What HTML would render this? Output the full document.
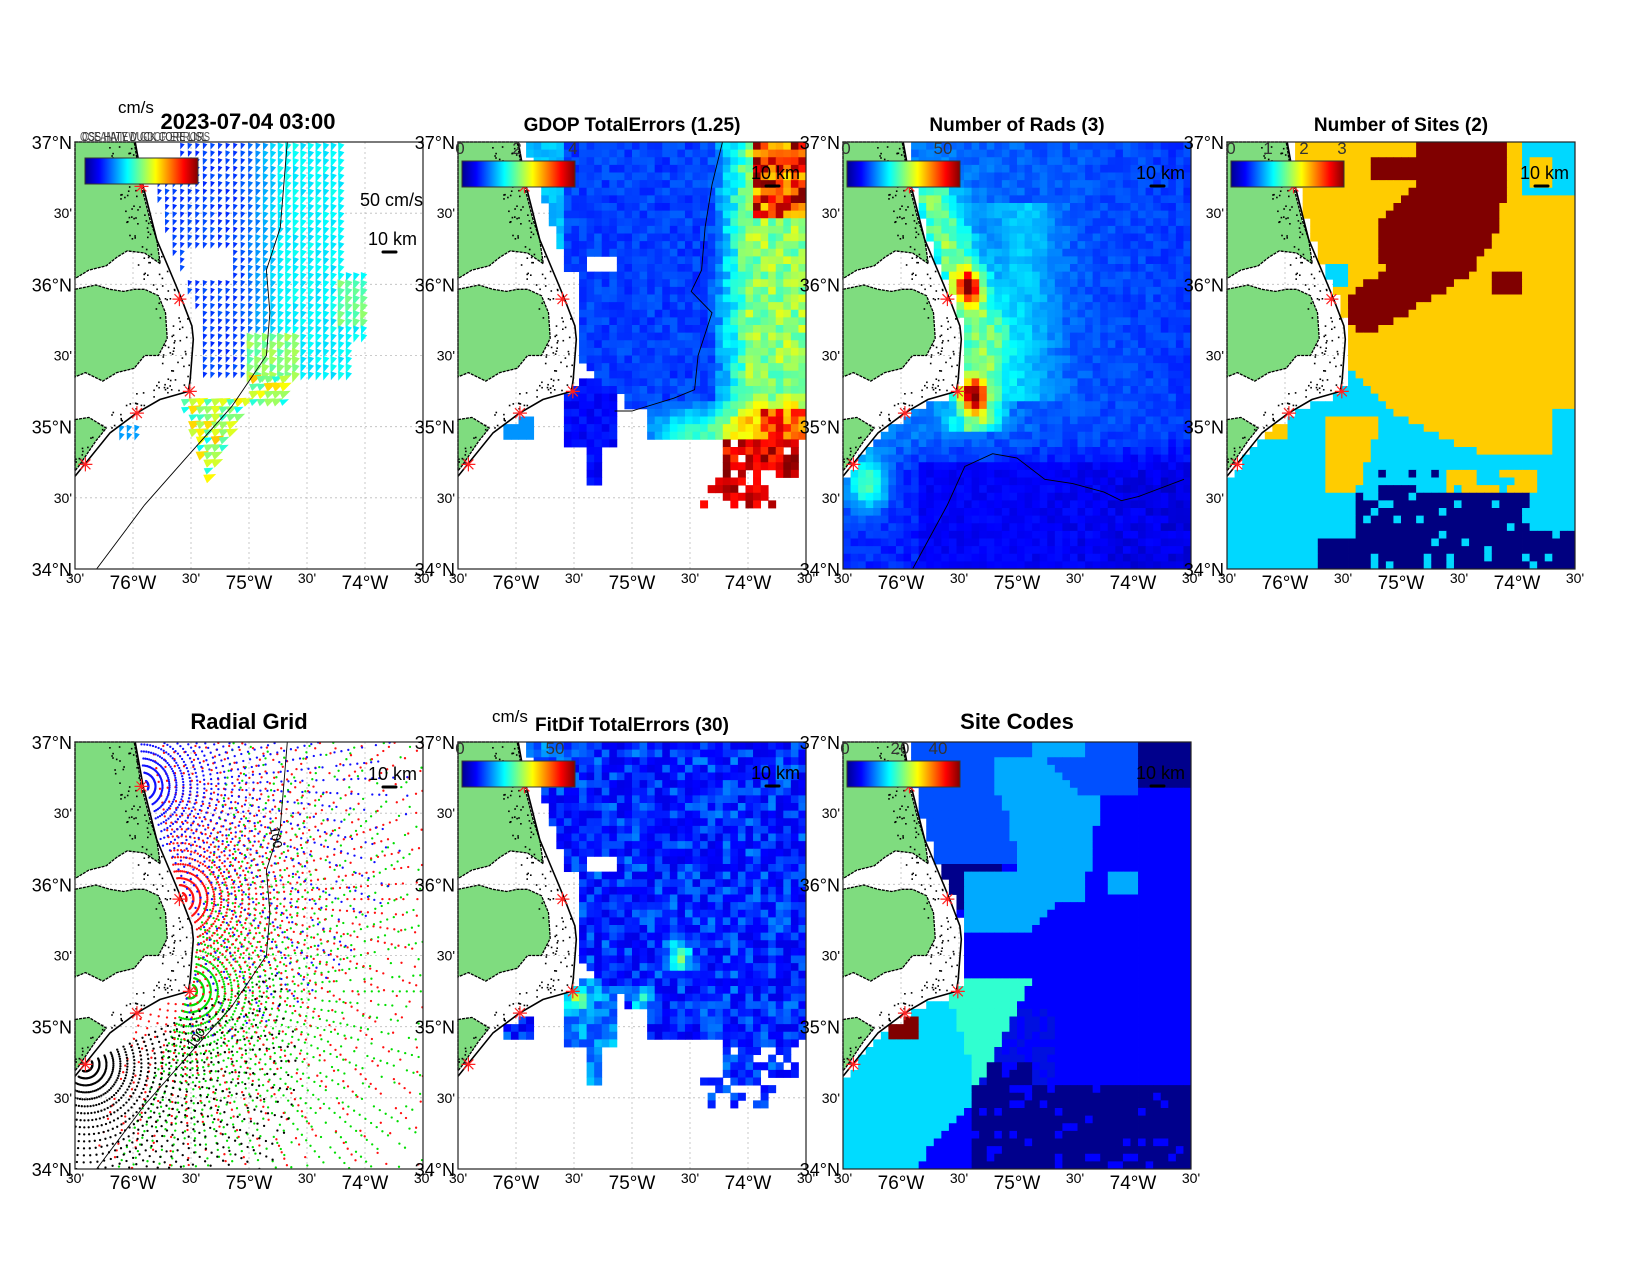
<!DOCTYPE html>
<html><head><meta charset="utf-8"><style>
html,body{margin:0;padding:0;background:#fff}
svg text{font-family:"Liberation Sans",Arial,sans-serif}
</style></head><body>
<svg id="s" xmlns="http://www.w3.org/2000/svg" width="1650" height="1275" viewBox="0 0 1650 1275">
<defs>
<linearGradient id="jet" x1="0" x2="1" y1="0" y2="0">
<stop offset="0" stop-color="#00008f"/><stop offset="0.125" stop-color="#0000ff"/><stop offset="0.375" stop-color="#00ffff"/><stop offset="0.625" stop-color="#ffff00"/><stop offset="0.875" stop-color="#ff0000"/><stop offset="1" stop-color="#800000"/>
</linearGradient>
</defs>
</svg>
<script>
(function(){
var W=348,H=427,NC=46,NR=56,cw=W/NC,ch=H/NR;
var PX=[75,458,843,1227],PY=[142,742];
function cl(x){return x<0?0:(x>1?1:x);}
function hash(i,j,s){var x=Math.sin(i*127.1+j*311.7+s*74.7)*43758.5453;return x-Math.floor(x);}
function jet(t){t=cl(t);var r=cl(1.5-Math.abs(4*t-3)),g=cl(1.5-Math.abs(4*t-2)),b=cl(1.5-Math.abs(4*t-1));
return 'rgb('+Math.round(r*255)+','+Math.round(g*255)+','+Math.round(b*255)+')';}
var OC=[[0.173,0],[0.196,0.104],[0.235,0.229],[0.283,0.322],[0.307,0.369],[0.336,0.431],[0.340,0.462],[0.331,0.556],[0.326,0.584],[0.244,0.603],[0.177,0.635],[0.101,0.681],[0,0.783]];
function interp(pts,x,ix,iy){for(var k=0;k<pts.length-1;k++){var a=pts[k],b=pts[k+1];var lo=Math.min(a[ix],b[ix]),hi=Math.max(a[ix],b[ix]);if(x>=lo&&x<=hi){var f=(b[ix]-a[ix])==0?0:(x-a[ix])/(b[ix]-a[ix]);return a[iy]+f*(b[iy]-a[iy]);}}return null;}
var up=OC.slice(0,9),low=OC.slice(8);
function coastU(v){if(v<=0.584)return interp(up,v,1,0);return 0;}
function ocean(u,v){if(v<=0.584){return u>coastU(v)+0.01;}
 if(u>0.326)return true;var lv=interp(low,u,0,1);return v>lv+0.01;}
var out=[];
function P(s){out.push(s);}
function pg(pts,ox,oy){return pts.map(function(p){return (ox+p[0]*W).toFixed(1)+','+(oy+p[1]*H).toFixed(1);}).join(' ');}
var LA=[[0,0],[0.17,0],[0.19,0.1],[0.215,0.18],[0.235,0.23],[0.245,0.285],[0.2,0.26],[0.15,0.255],[0.12,0.27],[0.09,0.29],[0.04,0.3],[0,0.32]];
var LB=[[0,0.345],[0.06,0.335],[0.1,0.345],[0.14,0.35],[0.17,0.345],[0.2,0.345],[0.24,0.36],[0.26,0.4],[0.265,0.46],[0.24,0.5],[0.2,0.5],[0.17,0.53],[0.12,0.54],[0.08,0.56],[0.03,0.54],[0,0.55]];
var LC=[[0,0.65],[0.04,0.645],[0.09,0.67],[0.06,0.7],[0.01,0.76],[0,0.77]];
var STARS=[[0.191,0.104],[0.30,0.368],[0.33,0.584],[0.178,0.635],[0.03,0.755]];
function grid(ox,oy){for(var k=1;k<6;k++){P('<line x1="'+(ox+k*W/6)+'" y1="'+oy+'" x2="'+(ox+k*W/6)+'" y2="'+(oy+H)+'" stroke="#bbb" stroke-width="0.8" stroke-dasharray="2,3"/>');
P('<line x1="'+ox+'" y1="'+(oy+k*H/6)+'" x2="'+(ox+W)+'" y2="'+(oy+k*H/6)+'" stroke="#bbb" stroke-width="0.8" stroke-dasharray="2,3"/>');}}
function cells(ox,oy,fn,seed){for(var j=0;j<NR;j++)for(var i=0;i<NC;i++){var u=(i+0.5)/NC,v=(j+0.5)/NR;var c=fn(u,v,hash(i,j,seed),i,j);if(c)P('<rect x="'+(ox+i*cw).toFixed(2)+'" y="'+(oy+j*ch).toFixed(2)+'" width="'+(cw+0.4).toFixed(2)+'" height="'+(ch+0.4).toFixed(2)+'" fill="'+c+'"/>');}}
function land(ox,oy){
 [LA,LB,LC].forEach(function(L){P('<polygon points="'+pg(L,ox,oy)+'" fill="#7fdc7f" stroke="#000" stroke-width="1.3" stroke-dasharray="3,1"/>');});
 P('<polyline points="'+pg(OC,ox,oy)+'" fill="none" stroke="#000" stroke-width="1.6"/>');
 for(var k=0;k<160;k++){var v=hash(k,1,9)*0.8,u=coastU(Math.min(v,0.584));if(v>0.584){var uu=hash(k,2,9)*0.3;var lv=interp(low,uu,0,1);if(lv===null)continue;u=uu;v=lv-0.01-hash(k,3,9)*0.04;}else{u=u-0.005-hash(k,3,9)*0.08;}
 P('<rect x="'+(ox+u*W).toFixed(1)+'" y="'+(oy+v*H).toFixed(1)+'" width="1.6" height="1.6" fill="#000"/>');}
 STARS.forEach(function(s){var x=ox+s[0]*W,y=oy+s[1]*H;var d='';for(var a=0;a<4;a++){var an=a*Math.PI/4;d+='M'+(x-7*Math.cos(an)).toFixed(1)+' '+(y-7*Math.sin(an)).toFixed(1)+'L'+(x+7*Math.cos(an)).toFixed(1)+' '+(y+7*Math.sin(an)).toFixed(1);}P('<path d="'+d+'" stroke="#ff2020" stroke-width="1.2"/>');});
}
function axes(ox,oy,title,tsize,cbar,ticks,km){
 P('<rect x="'+ox+'" y="'+oy+'" width="'+W+'" height="'+H+'" fill="none" stroke="#222" stroke-width="1.2"/>');
 var lab=['37°N',"30'",'36°N',"30'",'35°N',"30'",'34°N'];
 for(var k=0;k<7;k++){var big=k%2==0;P('<text x="'+(ox-3)+'" y="'+(oy+k*H/6+(big?7:5))+'" text-anchor="end" font-size="'+(big?18:14)+'">'+lab[k]+'</text>');}
 var bl=["30'",'76°W',"30'",'75°W',"30'",'74°W',"30'"];
 for(var k=0;k<7;k++){var big=k%2==1;P('<text x="'+(ox+k*W/6)+'" y="'+(oy+H+(big?20:14))+'" text-anchor="middle" font-size="'+(big?19:14)+'">'+bl[k]+'</text>');}
 if(title)P('<text x="'+(ox+W/2)+'" y="'+(oy-(tsize>20?13:11))+'" text-anchor="middle" font-size="'+tsize+'" font-weight="bold">'+title+'</text>');
 if(cbar){P('<rect x="'+(ox+cbar[0])+'" y="'+(oy+cbar[1])+'" width="113" height="26" fill="url(#jet)" stroke="#333" stroke-width="1"/>');
  ticks.forEach(function(t){P('<text x="'+(ox+t[0])+'" y="'+(oy+12)+'" text-anchor="middle" font-size="17" fill="#333">'+t[1]+'</text>');});}
 if(km){P('<text x="'+(ox+W-6)+'" y="'+(oy+km)+'" text-anchor="end" font-size="18">10 km</text>');
  P('<line x1="'+(ox+W-40)+'" y1="'+(oy+km+7)+'" x2="'+(ox+W-27)+'" y2="'+(oy+km+7)+'" stroke="#000" stroke-width="3" stroke-linecap="round"/>');}
}
function gdopMask(u,v,h){if(!ocean(u,v))return 0;
 var m=false;
 if(v<0.27)m=u>0.19+0.41*v;
 else if(v<0.31)m=u>0.30&&!(u>0.37&&u<0.455);
 else if(v<0.52)m=u>0.35;
 else if(v<0.6)m=u>0.35+(v-0.52)*1.6;
 else if(v<0.63)m=u>0.47;
 else if(v<0.70)m=u>0.545;
 else if(v<0.78)m=u>0.76&&u<0.98&&h>0.15;
 else if(v<0.86)m=u>0.69&&u<0.91&&h>0.35;
 if(m)return 1;
 if(u>0.30&&u<0.455&&v>0.56&&v<0.72)return 2;
 if(u>0.37&&u<0.415&&v>=0.72&&v<0.81)return 2;
 if(u>0.13&&u<0.215&&v>0.65&&v<0.70)return 3;
 return 0;}
function g(u,v,x0,y0,s){return Math.exp(-((u-x0)*(u-x0)+(v-y0)*(v-y0))/s);}

// Panel 1: vectors
(function(){var ox=PX[0],oy=PY[0];grid(ox,oy);
 for(var j=0;j<NR;j++)for(var i=0;i<NC;i++){var u=(i+0.5)/NC,v=(j+0.5)/NR,h=hash(i,j,1);if(!ocean(u,v))continue;
  var main=v<0.56&&u>Math.max(coastU(Math.min(v,0.584))+0.04,0.24)&&u<(v<0.3?0.79:(v<0.47?0.84:0.8))&&!(u>0.32&&u<0.45&&v>0.25&&v<0.33)&&!(v<0.05&&u<0.3);
  var south=(v>=0.6&&v<0.8&&u>0.3+(v-0.6)*0.4&&u<0.5-(v-0.6)*0.6)||(v>=0.5&&v<0.62&&u>0.5&&u<0.6);
  var sb=u>0.14&&u<0.2&&v>0.66&&v<0.7;
  if(!(main||south||sb))continue;
  var t=0.16+0.05*h,dx=-0.35,dy=1;
  if(u>0.48)t+=0.18*cl((u-0.48)/0.12);
  if(u>0.75&&v>0.33&&v<0.42)t=0.42+0.1*h;
  if(u>0.5&&u<0.65&&v>0.44&&v<0.55)t=0.45+0.1*h;
  if(south&&!main){t=0.38+0.3*h;dx=1;dy=-0.45;}
  if(sb){t=0.28;}
  var L=4+t*13,n=Math.sqrt(dx*dx+dy*dy);dx/=n;dy/=n;
  var x=ox+(i+0.2)*cw,y=oy+(j+0.2)*ch,w=L*0.38;
  P('<polygon points="'+(x+L*dx).toFixed(1)+','+(y+L*dy).toFixed(1)+' '+(x-dy*w).toFixed(1)+','+(y+dx*w).toFixed(1)+' '+(x+dy*w).toFixed(1)+','+(y-dx*w).toFixed(1)+'" fill="'+jet(t)+'"/>');}
 land(ox,oy);
 var iso=[[0.062,1],[0.2,0.85],[0.33,0.73],[0.45,0.62],[0.55,0.5],[0.56,0.4],[0.55,0.3],[0.59,0.2],[0.61,0]];
 P('<polyline points="'+pg(iso,ox,oy)+'" fill="none" stroke="#000" stroke-width="0.9"/>');
 axes(ox,oy,null,0,[10,16],[],103);
 P('<text x="'+(ox+W)+'" y="'+(oy+64)+'" text-anchor="end" font-size="18">50 cm/s</text>');
 P('<text x="80" y="141" font-size="13" fill="#555" textLength="130" lengthAdjust="spacingAndGlyphs">OCEANVIEW GDOP ERRORS</text>');
 P('<text x="82" y="141" font-size="13" fill="#333" textLength="125" lengthAdjust="spacingAndGlyphs">CSS HATY DUCK CORE LISL</text>');
 P('<text x="118" y="113" font-size="17">cm/s</text>');
 P('<text x="248" y="129" text-anchor="middle" font-size="22" font-weight="bold">2023-07-04 03:00</text>');
})();

// Panel 2: GDOP
(function(){var ox=PX[1],oy=PY[0];grid(ox,oy);
 cells(ox,oy,function(u,v,h){var m=gdopMask(u,v,h);if(!m)return null;
  var t;if(m==2)t=0.1+0.06*h;else if(m==3)t=0.27;else{
  t=0.15+0.07*h;t+=cl((u-0.72)/0.12)*(0.28+0.1*h);
  t+=cl((v-0.6)/0.07)*cl((u-0.5)/0.15)*0.25;
  if(u<0.3&&v<0.25)t+=0.12;
  if(v>0.6&&v<0.7)t=Math.min(t,0.6+0.12*h);
  if(v>0.7)t=0.78+0.22*h;
  if(u>0.84&&v<0.17)t=0.65+0.35*h;
  if(v>0.63&&v<0.7&&u>0.88)t=0.65+0.3*h;}
  return jet(t);},2);
 land(ox,oy);
 P('<polyline points="'+pg([[0.76,0],[0.73,0.1],[0.71,0.2],[0.7,0.3],[0.67,0.35],[0.73,0.4],[0.69,0.5],[0.68,0.58],[0.62,0.6],[0.5,0.63],[0.45,0.63]],ox,oy)+'" fill="none" stroke="#000" stroke-width="0.9"/>');
 axes(ox,oy,'GDOP TotalErrors (1.25)',19,[4,19],[[2,0],[59,2],[115,4]],37);
})();

// Panel 3: rads
(function(){var ox=PX[2],oy=PY[0];grid(ox,oy);
 cells(ox,oy,function(u,v,h){if(!ocean(u,v))return null;
  var t=0.19+0.06*h;var d=u-coastU(Math.min(v,0.584));
  if(v<0.68)t+=Math.exp(-(d-0.06)*(d-0.06)/0.005)*(0.22+0.1*h)*cl((v-0.04)/0.1);
  if(v>0.15&&v<0.6)t+=0.1*Math.exp(-(u-0.52)*(u-0.52)/0.01);
  t+=0.6*g(u,v,0.36,0.34,0.0012)+0.6*g(u,v,0.375,0.595,0.0012);
  t+=0.28*g(u,v,0.07,0.8,0.004);
  t-=(u-0.5)*0.08;
  t-=cl((v-0.68)/0.1)*0.09;
  if(v>0.75&&u>0.22)t=Math.min(t,0.1+0.04*h);
  return jet(t);},3);
 land(ox,oy);
 P('<polyline points="'+pg([[0.2,1],[0.3,0.85],[0.35,0.76],[0.43,0.73],[0.5,0.74],[0.58,0.79],[0.66,0.8],[0.75,0.82],[0.8,0.84],[0.85,0.83],[0.98,0.79]],ox,oy)+'" fill="none" stroke="#000" stroke-width="0.9"/>');
 axes(ox,oy,'Number of Rads (3)',19,[4,19],[[3,0],[100,50]],37);
})();

// Panel 4: sites
(function(){var ox=PX[3],oy=PY[0];grid(ox,oy);
 var Y='#ffcc00',R='#800000',C='#00d8ff',N='#000080';
 var BL=[[0.09,0.56,0.81],[0.2,0.43,0.78],[0.3,0.45,0.71],[0.36,0.35,0.6],[0.42,0.35,0.48],[0.45,0.38,0.4]];
 var bnd=[[0.5,0.33],[0.55,0.37],[0.635,0.48],[0.7,0.64],[0.73,0.75],[0.74,1],[1.01,1]];
 cells(ox,oy,function(u,v,h){if(!ocean(u,v))return null;
  if(v<0.06&&u<0.2)return null;
  var c=Y;
  if((v<0.09&&u>0.545&&u<0.81)||(v>0.035&&v<0.09&&u>0.41&&u<0.545))c=R;
  if(v>=0.09&&v<0.45){for(var k=0;k<BL.length-1;k++){if(v>=BL[k][0]&&v<BL[k+1][0]){var f=(v-BL[k][0])/(BL[k+1][0]-BL[k][0]);var l=BL[k][1]+f*(BL[k+1][1]-BL[k][1]),r=BL[k][2]+f*(BL[k+1][2]-BL[k][2]);if(u>l&&u<r)c=R;}}}
  if(u>0.77&&u<0.84&&v>0.31&&v<0.36)c=R;
  if(u>0.85&&v<0.13&&!(u>0.87&&u<0.94&&v>0.03&&v<0.11))c=C;
  if(u>0.28&&u<0.35&&v>0.28&&v<0.34)c=C;
  if(v>0.5){var b=interp(bnd,v,0,1);if(b===null)b=1;if(u<b)c=C;}
  if(v>0.62&&v<0.74&&u>0.93)c=C;
  if(u>0.28&&u<0.44-(v-0.66)*0.4&&v>0.64&&v<0.83)c=Y;
  if(u>0.1&&u<0.18&&v>0.65&&v<0.69)c=Y;
  if(u>0.62&&u<0.9&&v>0.76&&v<0.82&&h>0.3)c=Y;
  if((v>0.83&&u>0.37&&u<0.88&&h>0.15)||(v>0.91&&u>0.88&&h>0.2)||(v>0.93&&u>0.25&&u<0.37)||(v>0.77&&v<0.83&&u>0.43&&u<0.6&&h>0.5))c=N;
  return c;},4);
 land(ox,oy);
 axes(ox,oy,'Number of Sites (2)',19,[4,19],[[4,0],[41,1],[77,2],[115,3]],37);
})();

// Panel 5: radial grid
(function(){var ox=PX[0],oy=PY[1];grid(ox,oy);
 P('<clipPath id="c5"><rect x="'+ox+'" y="'+oy+'" width="'+W+'" height="'+H+'"/></clipPath><g clip-path="url(#c5)">');
 var S=[[2,'#00dd00',380,-80,115],[1,'#ff1010',420,-100,110],[0,'#1010ff',270,-90,80],[4,'#000',210,-25,165]];
 S.forEach(function(s){var st=STARS[s[0]],sx=st[0]*W,sy=st[1]*H;
  for(var r=7;r<=s[2];r+=7){for(var a=s[3];a<=s[4];a+=4){var an=a*Math.PI/180;var x=sx+r*Math.cos(an),y=sy+r*Math.sin(an);
   if(x<0||x>W||y<0||y>H)continue;if(!ocean(x/W,y/H))continue;
   if(r>100&&hash(r,a,s[0])<(r-100)/350)continue;
   P('<circle cx="'+(ox+x).toFixed(1)+'" cy="'+(oy+y).toFixed(1)+'" r="1.15" fill="'+s[1]+'"/>');}}});
 P('</g>');
 land(ox,oy);
 var iso=[[0.062,1],[0.2,0.85],[0.33,0.73],[0.45,0.62],[0.55,0.5],[0.56,0.4],[0.55,0.3],[0.59,0.2],[0.61,0]];
 P('<polyline points="'+pg(iso,ox,oy)+'" fill="none" stroke="#000" stroke-width="0.9"/>');
 P('<text transform="translate('+(ox+0.56*W)+','+(oy+0.2*H)+') rotate(80)" font-size="13">100</text>');
 P('<text transform="translate('+(ox+0.34*W)+','+(oy+0.72*H)+') rotate(-55)" font-size="13">100</text>');
 axes(ox,oy,'Radial Grid',22,null,null,38);
})();

// Panel 6: FitDif
(function(){var ox=PX[1],oy=PY[1];grid(ox,oy);
 cells(ox,oy,function(u,v,h){var m=gdopMask(u,v,h);if(!m)return null;
  var t=0.1+0.12*h*h+0.04*h;
  t+=0.3*g(u,v,0.635,0.5,0.0012)+0.25*g(u,v,0.53,0.6,0.0008)+0.3*g(u,v,0.35,0.6,0.0008);
  if(m==2)t+=0.08;
  if(v<0.1&&u<0.3)t+=0.06;
  return jet(t);},6);
 land(ox,oy);
 axes(ox,oy,'FitDif TotalErrors (30)',19,[4,19],[[2,0],[97,50]],37);
 P('<text x="'+(ox+34)+'" y="'+(oy-20)+'" font-size="17">cm/s</text>');
})();

// Panel 7: site codes
(function(){var ox=PX[2],oy=PY[1];grid(ox,oy);
 var MB='#0050ff',LB2='#00aaff',NV='#00008c',BL='#0000ff',TE='#30ffd0',CY='#00dcff',DR='#800000',B2='#0010e0';
 var cb=[[0.6,0.3],[0.75,0.37],[0.85,0.37],[0.95,0.25],[1.01,0.2]];
 cells(ox,oy,function(u,v,h){if(!ocean(u,v))return null;
  if(v<0.03&&u<0.19)return null;
  var c=BL;
  if(v<0.29&&u<0.55)c=MB;
  if(v<0.12&&u>0.55&&u<0.85)c=MB;
  if(v<0.04&&u>0.55&&u<0.7)c=LB2;
  var l,r;
  if(v>0.04&&v<0.37){l=0.43+(v-0.04)*0.3;r=0.76-(v-0.04)*0.2;if(v<0.12){l=0.43;r=0.55+v;}if(u>l&&u<r)c=LB2;}
  if(v>=0.3&&v<0.44){l=0.35+(0.44-v)*0.6;r=0.55+(0.44-v)*0.9;if(u>0.35&&u<r&&u>l-0.1)c=LB2;}
  if(u>0.77&&u<0.85&&v>0.31&&v<0.36)c=LB2;
  if(u>0.85&&v<0.11)c=NV;
  if(u>0.29&&u<0.45&&v>0.28&&v<0.4&&!(c==LB2))c=NV;
  if(v>0.63&&u>0.36&&u<0.6&&h>0.4)c=B2;
  if(v>0.8&&u>0.36&&h>0.15)c=NV;
  if(v>0.75&&u>0.42&&u<0.55&&h>0.3)c=NV;
  if(v>0.55&&v<0.8&&u>0.28&&u<0.455-(v-0.7)*0.6)c=TE;
  if(v>0.6){var b=interp(cb,v,0,1);if(b===null)b=0.2;if(u<b)c=CY;}
  if(v>0.56&&v<0.62&&u<0.3)c=CY;
  if(u>0.13&&u<0.22&&v>0.65&&v<0.7)c=DR;
  return c;},7);
 land(ox,oy);
 axes(ox,oy,'Site Codes',22,[4,19],[[2,0],[57,20],[95,40]],37);
})();

document.getElementById('s').insertAdjacentHTML('beforeend',out.join(''));
})();
</script>
</body></html>
